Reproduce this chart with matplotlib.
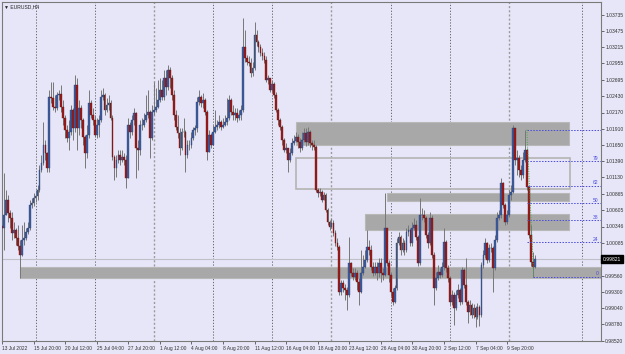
import matplotlib
matplotlib.use("Agg")
import matplotlib.pyplot as plt
from matplotlib.patches import Rectangle
import matplotlib.transforms as mtransforms

plt.rcParams['font.family'] = ['Liberation Sans', 'DejaVu Sans']

# EURUSD H4 bars (index 0 = 13 Jul 2022), prices
first_open = 1.0035
closes = [
    1.0032, 1.0053, 1.0077, 1.0056, 1.0048, 1.0024, 1.0029, 1.0016, 1.0003, 0.9989,
    1.0013, 1.0016, 1.0026, 1.0032, 1.0069, 1.0072, 1.0080, 1.0083, 1.0093, 1.0125,
    1.0136, 1.0165, 1.0152, 1.0128, 1.0242, 1.0240, 1.0226, 1.0224, 1.0245, 1.0247,
    1.0226, 1.0208, 1.0189, 1.0176, 1.0186, 1.0221, 1.0192, 1.0261, 1.0192, 1.0224,
    1.0205, 1.0178, 1.0152, 1.0181, 1.0232, 1.0213, 1.0205, 1.0181, 1.0197, 1.0205,
    1.0242, 1.0245, 1.0221, 1.0229, 1.0232, 1.0208, 1.0146, 1.0128, 1.0141, 1.0149,
    1.0141, 1.0146, 1.0141, 1.0112, 1.0197, 1.0186, 1.0205, 1.0216, 1.0160, 1.0157,
    1.0197, 1.0197, 1.0205, 1.0213, 1.0218, 1.0176, 1.0218, 1.0221, 1.0226, 1.0237,
    1.0253, 1.0242, 1.0272, 1.0258, 1.0285, 1.0272, 1.0245, 1.0213, 1.0194, 1.0184,
    1.0160, 1.0186, 1.0186, 1.0149, 1.0165, 1.0165, 1.0176, 1.0189, 1.0192, 1.0234,
    1.0242, 1.0232, 1.0237, 1.0218, 1.0154, 1.0181, 1.0165, 1.0186, 1.0194, 1.0197,
    1.0202, 1.0194, 1.0197, 1.0202, 1.0208, 1.0237, 1.0218, 1.0213, 1.0216, 1.0208,
    1.0213, 1.0221, 1.0322, 1.0304, 1.0298, 1.0296, 1.0280, 1.0288, 1.0341, 1.0330,
    1.0322, 1.0312, 1.0307, 1.0301, 1.0269, 1.0272, 1.0253, 1.0263, 1.0245, 1.0221,
    1.0205, 1.0194, 1.0173, 1.0157, 1.0160, 1.0141, 1.0152, 1.0168, 1.0171, 1.0178,
    1.0170, 1.0160, 1.0173, 1.0184, 1.0170, 1.0186, 1.0168, 1.0165, 1.0162, 1.0093,
    1.0088, 1.0090, 1.0077, 1.0085, 1.0061, 1.0042, 1.0034, 1.0040, 1.0024, 1.0008,
    1.0002, 0.9930, 0.9944, 0.9936, 0.9933, 0.9925, 0.9976, 0.9960, 0.9954, 0.9960,
    0.9946, 0.9930, 0.9960, 0.9970, 0.9981, 1.0002, 0.9997, 0.9970, 0.9960, 0.9970,
    0.9960, 0.9976, 0.9960, 0.9957, 1.0032, 0.9976, 0.9957, 0.9930, 0.9914, 0.9936,
    1.0008, 1.0018, 0.9997, 1.0008, 0.9997, 1.0026, 1.0029, 1.0008, 1.0032, 1.0037,
    1.0018, 0.9976, 1.0053, 1.0053, 1.0048, 1.0021, 1.0008, 1.0048, 0.9989, 0.9936,
    0.9952, 0.9962, 0.9957, 0.9970, 1.0010, 0.9968, 0.9952, 0.9914, 0.9925, 0.9904,
    0.9925, 0.9933, 0.9914, 0.9965, 0.9941, 0.9914, 0.9898, 0.9909, 0.9893, 0.9904,
    0.9890, 0.9906, 0.9893, 0.9973, 0.9989, 1.0008, 0.9981, 1.0000, 1.0000, 0.9968,
    1.0013, 1.0048, 1.0053, 1.0104, 1.0069, 1.0042, 1.0053, 1.0085, 1.0090, 1.0192,
    1.0141, 1.0144, 1.0125, 1.0117, 1.0141, 1.0157, 1.0098, 1.0021, 0.9978, 0.9970,
    0.99821,
]
highs = [
    1.0042, 1.0120, 1.0093, 1.0085, 1.0061, 1.0058, 1.0042, 1.0032, 1.0037, 1.0013,
    1.0037, 1.0042, 1.0032, 1.0042, 1.0077, 1.0080, 1.0088, 1.0093, 1.0101, 1.0133,
    1.0149, 1.0202, 1.0173, 1.0154, 1.0253, 1.0266, 1.0266, 1.0245, 1.0250, 1.0253,
    1.0261, 1.0237, 1.0213, 1.0197, 1.0205, 1.0229, 1.0224, 1.0277, 1.0272, 1.0237,
    1.0229, 1.0208, 1.0181, 1.0197, 1.0253, 1.0237, 1.0224, 1.0213, 1.0208, 1.0213,
    1.0253, 1.0256, 1.0248, 1.0240, 1.0245, 1.0237, 1.0213, 1.0149, 1.0149, 1.0157,
    1.0157, 1.0157, 1.0152, 1.0149, 1.0208, 1.0202, 1.0213, 1.0224, 1.0218, 1.0173,
    1.0205, 1.0208, 1.0216, 1.0245, 1.0253, 1.0221, 1.0229, 1.0266, 1.0256, 1.0269,
    1.0272, 1.0269, 1.0285, 1.0285, 1.0293, 1.0290, 1.0277, 1.0253, 1.0221, 1.0213,
    1.0192, 1.0192, 1.0208, 1.0189, 1.0173, 1.0173, 1.0186, 1.0194, 1.0197, 1.0242,
    1.0253, 1.0245, 1.0248, 1.0240, 1.0221, 1.0189, 1.0184, 1.0197, 1.0221, 1.0205,
    1.0213, 1.0205, 1.0208, 1.0213, 1.0240, 1.0245, 1.0240, 1.0229, 1.0224, 1.0224,
    1.0221, 1.0229, 1.0368, 1.0349, 1.0309, 1.0307, 1.0304, 1.0298, 1.0362, 1.0349,
    1.0333, 1.0327, 1.0320, 1.0314, 1.0307, 1.0277, 1.0272, 1.0269, 1.0266, 1.0250,
    1.0224, 1.0208, 1.0197, 1.0176, 1.0168, 1.0160, 1.0160, 1.0176, 1.0181, 1.0186,
    1.0183, 1.0176, 1.0186, 1.0192, 1.0192, 1.0194, 1.0189, 1.0173, 1.0173, 1.0165,
    1.0096, 1.0096, 1.0093, 1.0090, 1.0088, 1.0064, 1.0045, 1.0048, 1.0045, 1.0029,
    1.0016, 1.0005, 0.9949, 0.9949, 0.9943, 0.9938, 1.0018, 0.9978, 0.9968, 0.9968,
    0.9965, 0.9952, 0.9997, 0.9989, 0.9997, 1.0029, 1.0013, 1.0005, 0.9978, 0.9978,
    0.9978, 0.9984, 0.9984, 0.9968, 1.0088, 1.0032, 0.9981, 0.9962, 0.9936, 0.9941,
    1.0016, 1.0026, 1.0021, 1.0016, 1.0013, 1.0032, 1.0037, 1.0032, 1.0042, 1.0048,
    1.0045, 1.0021, 1.0080, 1.0064, 1.0061, 1.0051, 1.0026, 1.0058, 1.0053, 0.9994,
    0.9962, 0.9973, 0.9968, 0.9978, 1.0032, 1.0013, 0.9973, 0.9955, 0.9933, 0.9930,
    0.9933, 0.9943, 0.9936, 0.9970, 0.9968, 0.9984, 0.9917, 0.9917, 0.9912, 0.9911,
    0.9907, 0.9912, 0.9909, 0.9978, 0.9997, 1.0016, 1.0010, 1.0007, 1.0008, 1.0003,
    1.0021, 1.0058, 1.0061, 1.0112, 1.0106, 1.0072, 1.0061, 1.0093, 1.0101, 1.0197,
    1.0192, 1.0157, 1.0149, 1.0133, 1.0154, 1.0189, 1.0160, 1.0101, 1.0037, 0.9994,
    0.9989,
]
lows = [
    1.0026, 0.9997, 1.0053, 1.0042, 1.0032, 1.0013, 1.0016, 1.0005, 0.9997, 0.9952,
    0.9987, 1.0005, 1.0013, 1.0023, 1.0029, 1.0064, 1.0067, 1.0074, 1.0077, 1.0090,
    1.0122, 1.0133, 1.0141, 1.0122, 1.0122, 1.0232, 1.0221, 1.0218, 1.0221, 1.0237,
    1.0218, 1.0197, 1.0176, 1.0170, 1.0157, 1.0181, 1.0173, 1.0186, 1.0157, 1.0181,
    1.0192, 1.0165, 1.0128, 1.0144, 1.0176, 1.0208, 1.0197, 1.0178, 1.0176, 1.0178,
    1.0202, 1.0237, 1.0213, 1.0218, 1.0221, 1.0205, 1.0141, 1.0109, 1.0114, 1.0136,
    1.0133, 1.0138, 1.0133, 1.0096, 1.0112, 1.0176, 1.0181, 1.0197, 1.0112, 1.0125,
    1.0149, 1.0189, 1.0194, 1.0202, 1.0208, 1.0144, 1.0173, 1.0213, 1.0218, 1.0224,
    1.0234, 1.0237, 1.0237, 1.0245, 1.0253, 1.0256, 1.0237, 1.0205, 1.0189, 1.0176,
    1.0149, 1.0157, 1.0178, 1.0122, 1.0144, 1.0157, 1.0160, 1.0173, 1.0181, 1.0186,
    1.0229, 1.0226, 1.0224, 1.0213, 1.0141, 1.0157, 1.0160, 1.0165, 1.0184, 1.0189,
    1.0192, 1.0189, 1.0192, 1.0195, 1.0197, 1.0205, 1.0213, 1.0205, 1.0205, 1.0202,
    1.0205, 1.0205, 1.0218, 1.0298, 1.0293, 1.0291, 1.0274, 1.0275, 1.0285, 1.0323,
    1.0314, 1.0307, 1.0301, 1.0296, 1.0266, 1.0263, 1.0250, 1.0250, 1.0240, 1.0218,
    1.0197, 1.0189, 1.0165, 1.0154, 1.0152, 1.0122, 1.0138, 1.0149, 1.0165, 1.0170,
    1.0160, 1.0154, 1.0157, 1.0170, 1.0163, 1.0165, 1.0162, 1.0157, 1.0157, 1.0090,
    1.0082, 1.0083, 1.0074, 1.0077, 1.0058, 1.0037, 1.0029, 1.0032, 1.0019, 1.0003,
    0.9997, 0.9925, 0.9925, 0.9930, 0.9917, 0.9901, 0.9922, 0.9955, 0.9949, 0.9949,
    0.9933, 0.9909, 0.9928, 0.9957, 0.9968, 0.9978, 0.9989, 0.9965, 0.9955, 0.9957,
    0.9949, 0.9954, 0.9946, 0.9949, 0.9955, 0.9971, 0.9946, 0.9923, 0.9909, 0.9912,
    0.9933, 1.0005, 0.9989, 0.9994, 0.9989, 0.9994, 1.0019, 1.0003, 1.0003, 1.0029,
    1.0013, 0.9971, 0.9973, 1.0045, 1.0042, 1.0016, 1.0000, 1.0005, 0.9984, 0.9909,
    0.9933, 0.9949, 0.9952, 0.9954, 0.9965, 0.9962, 0.9946, 0.9909, 0.9909, 0.9877,
    0.9901, 0.9920, 0.9909, 0.9911, 0.9936, 0.9909, 0.9880, 0.9893, 0.9888, 0.9888,
    0.9874, 0.9887, 0.9875, 0.9890, 0.9968, 0.9984, 0.9976, 0.9978, 0.9994, 0.9930,
    0.9965, 1.0010, 1.0045, 1.0048, 1.0064, 1.0037, 1.0039, 1.0050, 1.0077, 1.0088,
    1.0133, 1.0117, 1.0114, 1.0109, 1.0112, 1.0138, 1.0093, 1.0016, 0.9971, 0.9954,
    0.9968,
]
opens = [first_open] + closes[:-1]

# price axis labels (right side) and time labels (bottom)
price_ticks = [1.03735, 1.03475, 1.03215, 1.02955, 1.02695, 1.02430, 1.02170,
               1.01910, 1.01650, 1.01390, 1.01130, 1.00865, 1.00605, 1.00346,
               1.00085, 0.99560, 0.99300, 0.99040, 0.98780, 0.98520]
time_labels = ['13 Jul 2022', '15 Jul 20:00', '20 Jul 12:00', '25 Jul 04:00',
               '27 Jul 20:00', '1 Aug 12:00', '4 Aug 04:00', '8 Aug 20:00',
               '11 Aug 12:00', '16 Aug 04:00', '18 Aug 20:00', '23 Aug 12:00',
               '26 Aug 04:00', '30 Aug 20:00', '2 Sep 12:00', '7 Sep 04:00',
               '9 Sep 20:00']
time_label_bars = [16 * k for k in range(len(time_labels))]
week_lines = [17, 47, 77, 107, 137, 167, 197, 227, 257, 294]
month_lines = [77, 167, 257]
last_price = 0.99821

# zones drawn on the chart: (first bar, last bar, low, high, filled)
zones = [
    (9.1, 303.6, 0.99522, 0.99698, True),
    (149.2, 287.4, 1.01650, 1.02018, True),
    (149.2, 287.9, 1.00946, 1.01442, False),
    (195.2, 287.4, 1.00754, 1.00882, True),
    (184.1, 287.4, 1.00290, 1.00546, True),
]

# fibonacci retracement
fib_high, fib_low = 1.01895, 0.99545
fib_levels = [100, 78.6, 61.8, 50, 38.2, 23.6, 0]
fib_names = ['', '79', '62', '50', '38', '24', '0']

bg = '#e6e6f8'
bull = '#3f5c9c'
bull_edge = '#2b3f6e'
bear = '#a01c1c'
bear_edge = '#5a1010'

fig = plt.figure(figsize=(6.25, 3.54), dpi=100, facecolor=bg)
ax = fig.add_axes([2 / 625, 13 / 354, 599 / 625, 339 / 354], facecolor=bg)
ax.set_xlim(0.3, 303.6)
ax.set_ylim(0.98514, 1.03938)

for x in week_lines:
    if x in month_lines:
        ax.axvline(x, color='#9a9a9a', lw=1.0, ls=(0, (1.5, 1.5)), zorder=1)
    else:
        ax.axvline(x, color='#555555', lw=0.6, ls=(0, (1.5, 2)), zorder=1)

for x0, x1, lo, hi, filled in zones:
    if filled:
        ax.add_patch(Rectangle((x0, lo), x1 - x0, hi - lo, facecolor='#a8a8a8',
                               edgecolor='#b8b8b8', lw=0.8, zorder=2))
    else:
        ax.add_patch(Rectangle((x0, lo), x1 - x0, hi - lo, facecolor='none',
                               edgecolor='#b4b4b4', lw=1.2, zorder=2))

ax.axhline(last_price, color='#c0c0c8', lw=0.8, zorder=2)

n = len(closes)
for i in range(n):
    o, c = opens[i], closes[i]
    h = max(highs[i], o, c)
    l = min(lows[i], o, c)
    ax.vlines(i, l, h, color='#777777', lw=0.7, zorder=3)
    up = c >= o
    body = max(abs(c - o), 0.00006)
    ax.bar(i, body, bottom=min(o, c), width=0.9, color=bull if up else bear,
           edgecolor=bull_edge if up else bear_edge, linewidth=0.25, zorder=4)

# fibonacci lines
rng = fib_high - fib_low
for lev, name in zip(fib_levels, fib_names):
    p = fib_low + rng * lev / 100
    x0 = 269.2 if lev == 0 else 266.3
    ax.plot([x0, 303.6], [p, p], color='#4b4bdc', lw=0.7, ls=(0, (1.5, 1.5)), zorder=5)
    if name:
        ax.text(302.3, p + 0.00006, name, color='#4b4bdc', fontsize=3.6,
                ha='right', va='bottom', zorder=6)
ax.plot([266.0, 269.5], [fib_high, fib_low], color='#44aa44', lw=0.7,
        ls=(0, (1, 1.5)), zorder=5)

for s in ax.spines.values():
    s.set_color('#7a7a7a')
    s.set_linewidth(0.8)

ax.yaxis.tick_right()
ax.set_yticks(price_ticks)
ax.set_yticklabels(['%.5f' % p for p in price_ticks])
ax.tick_params(axis='y', length=2, width=0.5, colors='#333333', labelsize=3.6, pad=1)
ax.set_xticks(time_label_bars)
ax.set_xticklabels(time_labels, ha='left')
ax.tick_params(axis='x', length=2, width=0.5, colors='#333333', labelsize=3.5, pad=1.5)

trans = mtransforms.blended_transform_factory(ax.transAxes, ax.transData)
ax.text(1.003, last_price, '%.5f' % last_price, transform=trans, fontsize=3.6,
        color='white', va='center', ha='left',
        bbox=dict(boxstyle='square,pad=0.3', facecolor='black', edgecolor='black'))

fig.text(4 / 625, 1 - 7 / 354, '\u25bc EURUSD,H4', fontsize=3.6, color='#222222',
         va='center', ha='left')

fig.savefig('out.png', dpi=100, facecolor=bg)
